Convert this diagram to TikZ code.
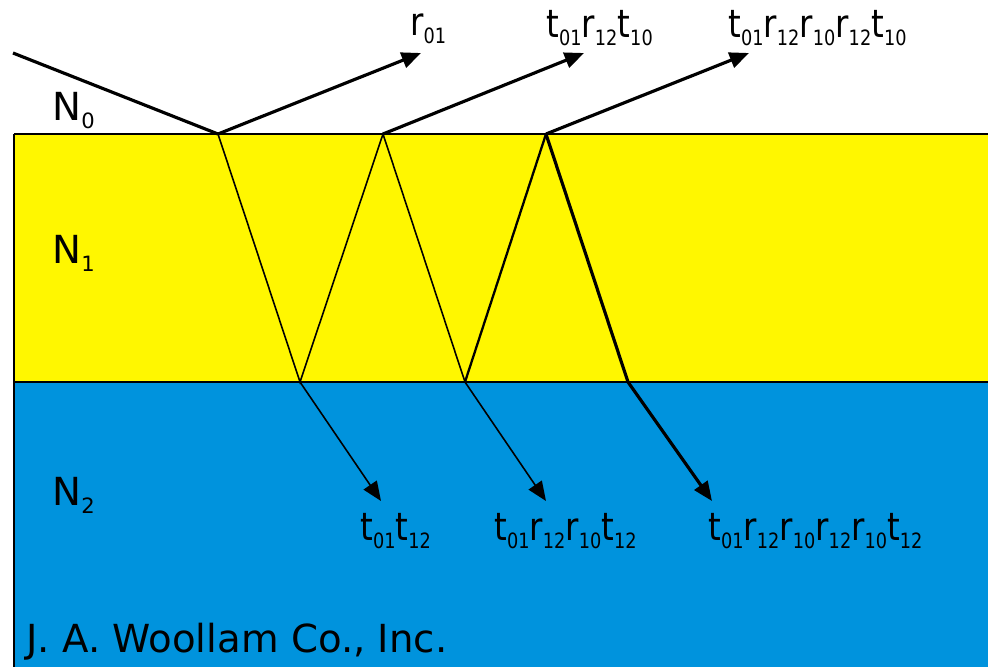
\documentclass[tikz,border=0pt]{standalone}
\usepackage{fontspec}
\usepackage{graphicx}
\setmainfont{DejaVu Sans}
\usetikzlibrary{arrows.meta}
\definecolor{filmyellow}{RGB}{255,247,0}
\definecolor{substblue}{RGB}{0,147,221}
\newcommand{\lo}[1]{\raisebox{-5pt}{\fontsize{12}{12}\selectfont #1}}
\newcommand{\squeeze}[1]{\scalebox{0.84}[1]{#1}}
\tikzset{
  lbl/.style={anchor=base west, inner sep=0pt, font=\fontsize{22}{24}\selectfont},
  ray/.style={line width=1.8pt},
  thinray/.style={line width=0.9pt},
  beam/.style={-{Triangle[length=11pt,width=9pt]}}
}
\begin{document}
\begin{tikzpicture}[x=0.02cm,y=-0.02cm]
\useasboundingbox (0,0) rectangle (988,667);
% layers
\fill[filmyellow] (14,134) rectangle (988,382);
\fill[substblue] (14,382) rectangle (988,667);
\draw[line width=1.4pt] (14,134) -- (988,134);
\draw[line width=1.4pt] (14,382) -- (988,382);
\draw[line width=1.7pt] (14,134) -- (14,667);
% bounce points
\coordinate (src) at (13,53);
\coordinate (a1) at (218,134);
\coordinate (a2) at (383,134);
\coordinate (a3) at (546,134);
\coordinate (b1) at (300,382);
\coordinate (b2) at (465,382);
\coordinate (b3) at (628,382);
\coordinate (r1) at (421,53);
\coordinate (r2) at (584,53);
\coordinate (r3) at (749,53);
\coordinate (t1) at (381,501);
\coordinate (t2) at (546,501);
\coordinate (t3) at (712,501);
% rays
\draw[ray] (src) -- (a1);
\draw[ray,beam] (a1) -- (r1);
\draw[ray,beam] (a2) -- (r2);
\draw[ray,beam] (a3) -- (r3);
\draw[thinray] (a1) -- (b1) -- (a2) -- (b2);
\draw[line width=1.3pt] (b2) -- (a3);
\draw[ray] (a3) -- (b3);
\draw[thinray,beam] (b1) -- (t1);
\draw[thinray,beam] (b2) -- (t2);
\draw[ray,beam] (b3) -- (t3);
% labels
\node[lbl] (Nzero) at (52,120) {N\lo{0}};
\node[lbl] (None) at (52,263) {N\lo{1}};
\node[lbl] (Ntwo) at (52,505) {N\lo{2}};
\node[lbl] (refl1) at (410,35) {\squeeze{r\lo{01}}};
\node[lbl] (refl2) at (546,37) {\squeeze{t\lo{01}r\lo{12}t\lo{10}}};
\node[lbl] (refl3) at (728,37) {\squeeze{t\lo{01}r\lo{12}r\lo{10}r\lo{12}t\lo{10}}};
\node[lbl] (trans1) at (360,540) {\squeeze{t\lo{01}t\lo{12}}};
\node[lbl] (trans2) at (494,540) {\squeeze{t\lo{01}r\lo{12}r\lo{10}t\lo{12}}};
\node[lbl] (trans3) at (708,540) {\squeeze{t\lo{01}r\lo{12}r\lo{10}r\lo{12}r\lo{10}t\lo{12}}};
\node[lbl] (maker) at (26,652) {J. A. Woollam Co., Inc.};
\end{tikzpicture}
\end{document}
